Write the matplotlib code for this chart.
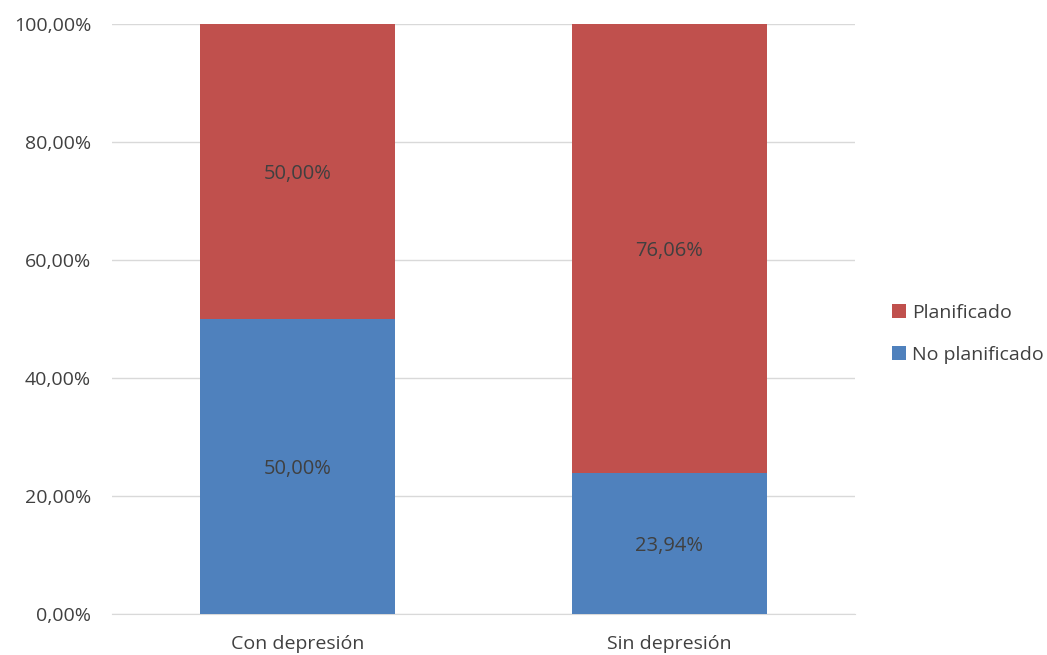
import numpy as np
import matplotlib.pyplot as plt

categorias = ['Con depresión', 'Sin depresión']
no_planificado = [50.00, 23.94]
planificado = [50.00, 76.06]
yticks = [0, 20, 40, 60, 80, 100]

plt.rcParams['font.family'] = ['Open Sans', 'DejaVu Sans']

fig = plt.figure(figsize=(10.47, 6.55), dpi=100)
ax = fig.add_axes([112 / 1047, 1 - 614 / 655, (855 - 112) / 1047, (614 - 24) / 655])

x = np.arange(len(categorias))
ancho = 0.525
azul = '#4F81BD'
rojo = '#C0504D'

b1 = ax.bar(x, no_planificado, ancho, color=azul, label='No planificado', zorder=3)
b2 = ax.bar(x, planificado, ancho, bottom=no_planificado, color=rojo, label='Planificado', zorder=3)

for barras, vals, base in [(b1, no_planificado, [0, 0]), (b2, planificado, no_planificado)]:
    for b, v, s in zip(barras, vals, base):
        ax.text(b.get_x() + b.get_width() / 2, s + v / 2 - 0.4, f'{v:.2f}%'.replace('.', ','),
                ha='center', va='center', fontsize=14.5, color='#404040', zorder=4)

ax.set_xlim(-0.5, 1.5)
ax.set_ylim(0, 100)
ax.set_yticks(yticks)
ax.set_yticklabels([f'{t:.2f}%'.replace('.', ',') for t in yticks])
ax.set_xticks(x)
ax.set_xticklabels(categorias)
ax.tick_params(length=0, labelsize=14, labelcolor='#404040')
ax.tick_params(axis='y', pad=15)
ax.tick_params(axis='x', pad=15)
ax.grid(axis='y', color='#D9D9D9', linewidth=1, zorder=0)
for lado in ['top', 'right', 'left']:
    ax.spines[lado].set_visible(False)
ax.spines['bottom'].set_color('#D9D9D9')

h, l = ax.get_legend_handles_labels()
fig.legend(h[::-1], l[::-1], loc='center left', bbox_to_anchor=(874 / 1047, 1 - 334 / 655),
           frameon=False, fontsize=14, labelcolor='#404040', handlelength=0.75, handleheight=0.75,
           handletextpad=0.3, labelspacing=1.25)

fig.savefig('out.png', dpi=100)
